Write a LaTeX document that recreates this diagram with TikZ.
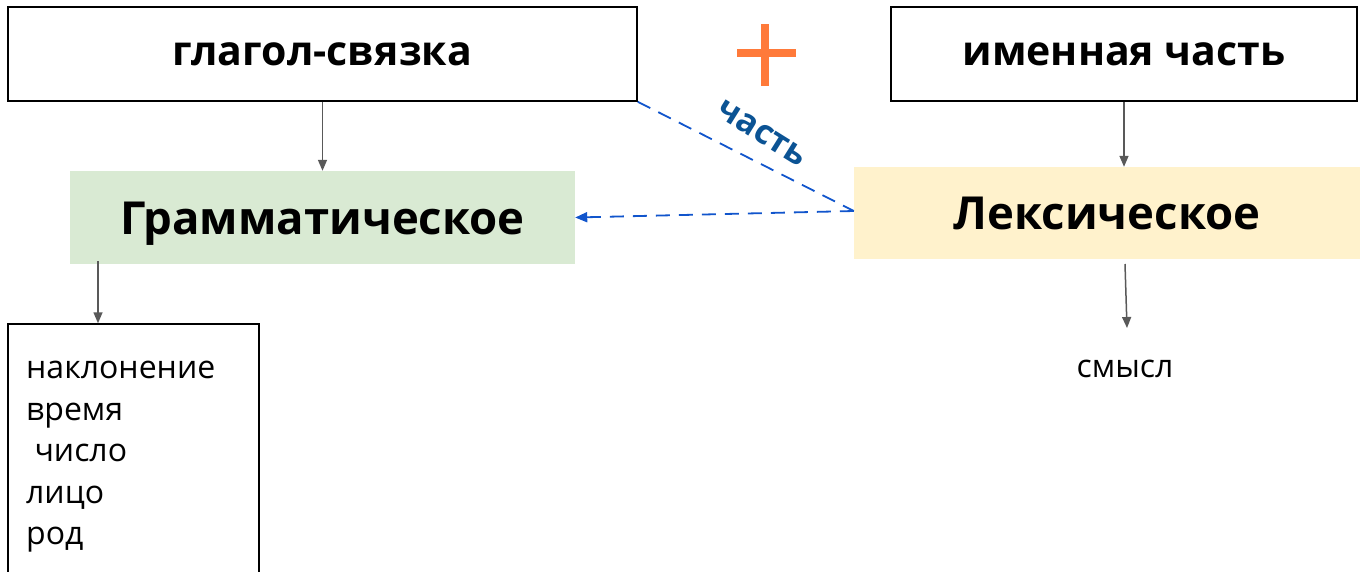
\documentclass[tikz,border=0pt]{standalone}
\usepackage{fontspec}
\setmainfont{Open Sans}
\usetikzlibrary{arrows.meta, positioning}

\definecolor{greenfill}{RGB}{217,234,211}
\definecolor{yellowfill}{RGB}{255,242,204}
\definecolor{linkblue}{RGB}{17,85,204}
\definecolor{labelblue}{RGB}{11,83,148}
\definecolor{plusorange}{RGB}{255,122,58}
\definecolor{arrgray}{RGB}{89,89,89}

\begin{document}
\begin{tikzpicture}[x=1pt, y=-1pt,
    headbox/.style={draw, line width=1.5pt, minimum height=94pt, inner sep=0pt, text height=22pt, text depth=0pt, font=\bfseries\fontsize{41}{46}\selectfont},
    partbox/.style={minimum width=505pt, minimum height=93pt, inner sep=0pt, text height=33pt, text depth=0pt, font=\bfseries\fontsize{45.5}{52}\selectfont},
    arr/.style={draw=arrgray, line width=1.5pt, -{Triangle[length=11pt, width=9pt]}},
    link/.style={draw=linkblue, line width=1.8pt, dash pattern=on 14pt off 9pt}]
      \useasboundingbox (0,0) rectangle (1360,571);

      % top boxes
      \node[headbox, minimum width=629pt] (glagol) at (322.5,54) {глагол-связка};
      \node[headbox, minimum width=466pt] (imen) at (1124,54) {именная часть};

      % plus
      \draw[plusorange, line width=8pt] (737,53) -- (796,53);
      \draw[plusorange, line width=8pt] (764.5,24) -- (764.5,86);

      % meaning parts
      \node[partbox, fill=greenfill] (gramm) at (322.5,217.5) {Грамматическое};
      \node[partbox, fill=yellowfill, minimum width=506pt, minimum height=92pt] (leks) at (1107,213) {Лексическое};

      % what they hold
      \node[draw, line width=1.5pt, minimum width=251pt, minimum height=252pt, inner sep=0pt] (list) at (133.5,450) {};
      \node[anchor=north west, align=left, inner sep=0pt, font=\fontsize{32}{41.5}\selectfont] (listtext) at (26,361)
        {наклонение\\время\\\ число\\лицо\\род};
      \node[font=\fontsize{32}{38}\selectfont] (smysl) at (1125,369) {смысл};

      \coordinate (gfoot) at (98,261);
      \coordinate (lfoot) at (1125,264);
      \coordinate (shead) at (1127,328);

      \draw[arr] (glagol.south) -- (gramm.north);
      \draw[arr] (imen.south) -- (imen.south |- leks.north);
      \draw[arr] (gfoot) -- (gfoot |- list.north);
      \draw[arr] (lfoot) -- (shead);

      \draw[link, -{Triangle[length=12pt, width=10pt]}] ([yshift=2pt]leks.west) -- (gramm.east);
      \draw[link] (glagol.south east) -- ([yshift=2pt]leks.west);
      \node[rotate=-32, text=labelblue, font=\bfseries\fontsize{34}{38}\selectfont] (partlabel) at (762,133) {часть};
    \end{tikzpicture}
\end{document}
